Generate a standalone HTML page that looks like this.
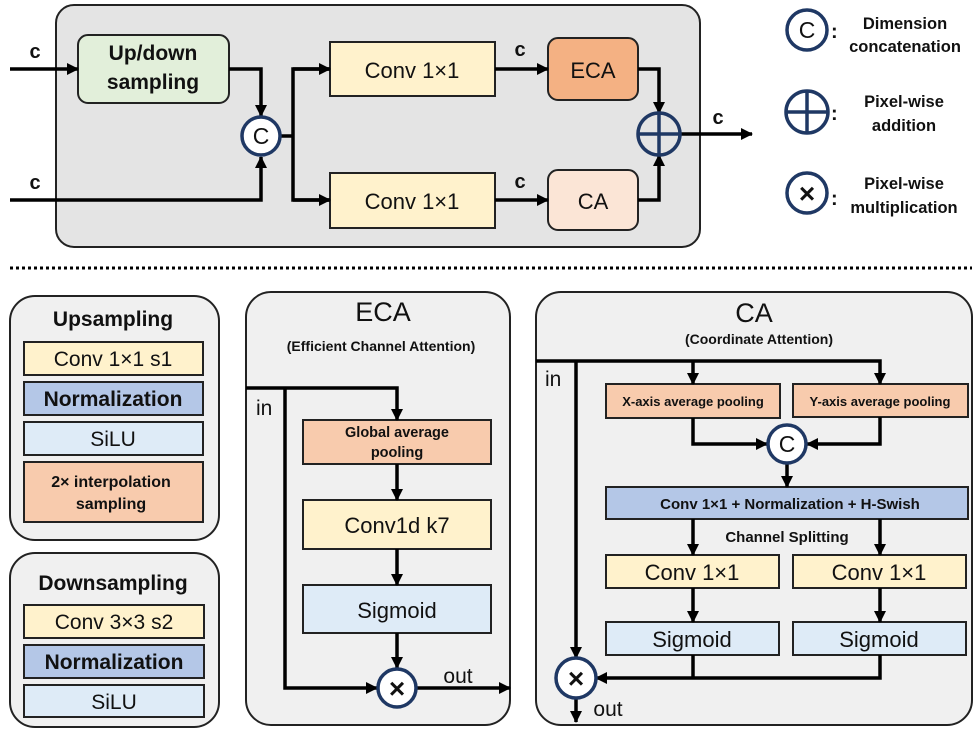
<!DOCTYPE html>
<html><head><meta charset="utf-8"><style>
html,body{margin:0;padding:0;background:#fff;}
svg{display:block;}
text{font-family:"Liberation Sans",sans-serif;fill:#111;}
.b{font-weight:bold;}
</style></head><body>
<svg width="977" height="735" viewBox="0 0 977 735" xmlns="http://www.w3.org/2000/svg">
<defs>
<marker id="a" markerWidth="12" markerHeight="12" refX="11" refY="6" orient="auto" markerUnits="userSpaceOnUse"><path d="M0,0 L12,6 L0,12 z" fill="#000"/></marker>
<marker id="A" markerWidth="12" markerHeight="12" refX="11" refY="6" orient="auto" markerUnits="userSpaceOnUse"><path d="M0,0 L12,6 L0,12 z" fill="#000"/></marker>
</defs>
<g stroke="#000" fill="none" stroke-width="3.5">
<rect x="56" y="5" width="644" height="242" rx="18" fill="#e4e4e4" stroke="#222" stroke-width="2"/>
<rect x="78" y="35" width="151" height="68" rx="10" fill="#e2efda" stroke="#222" stroke-width="2"/>
<rect x="330" y="42" width="165" height="54" fill="#fff2cc" stroke="#222" stroke-width="2"/>
<rect x="330" y="173" width="165" height="55" fill="#fff2cc" stroke="#222" stroke-width="2"/>
<rect x="548" y="38" width="90" height="62" rx="10" fill="#f4b183" stroke="#222" stroke-width="2"/>
<rect x="548" y="170" width="90" height="60" rx="10" fill="#fbe5d6" stroke="#222" stroke-width="2"/>
<line x1="10" y1="69" x2="78" y2="69" marker-end="url(#A)"/>
<polyline points="10,200 261,200 261,157" marker-end="url(#A)"/>
<polyline points="229,69 261,69 261,116" marker-end="url(#A)"/>
<polyline points="280,136 293,136"/>
<polyline points="330,69 293,69 293,200 330,200" />
<line x1="293" y1="69" x2="330" y2="69" marker-end="url(#A)"/>
<line x1="293" y1="200" x2="330" y2="200" marker-end="url(#A)"/>
<line x1="495" y1="69" x2="548" y2="69" marker-end="url(#A)"/>
<line x1="495" y1="200" x2="548" y2="200" marker-end="url(#A)"/>
<polyline points="638,69 659,69 659,113" marker-end="url(#A)"/>
<polyline points="638,200 659,200 659,155" marker-end="url(#A)"/>
<line x1="680" y1="134" x2="752" y2="134" marker-end="url(#A)"/>
</g>
<g stroke="#1f3864" stroke-width="3.5" fill="#fff">
<circle cx="261" cy="136" r="19"/>
<circle cx="659" cy="134" r="21" fill="none"/>
<line x1="638" y1="134" x2="680" y2="134"/><line x1="659" y1="113" x2="659" y2="155"/>
<circle cx="807" cy="30" r="20"/>
<circle cx="807" cy="112" r="21"/>
<line x1="786" y1="112" x2="828" y2="112"/><line x1="807" y1="91" x2="807" y2="133"/>
<circle cx="807" cy="193" r="20"/>
</g>
<text x="261" y="144" font-size="23" text-anchor="middle">C</text>
<text x="807" y="38" font-size="23" text-anchor="middle">C</text>
<text x="807" y="203" font-size="28" text-anchor="middle" class="b">×</text>
<g font-size="20">
<text x="35" y="58" text-anchor="middle" class="b">c</text>
<text x="35" y="189" text-anchor="middle" class="b">c</text>
<text x="520" y="56" text-anchor="middle" class="b">c</text>
<text x="520" y="188" text-anchor="middle" class="b">c</text>
<text x="718" y="124" text-anchor="middle" class="b">c</text>
</g>
<text x="153" y="60" font-size="21" text-anchor="middle" class="b">Up/down</text>
<text x="153" y="89" font-size="21" text-anchor="middle" class="b">sampling</text>
<text x="412" y="78" font-size="22" text-anchor="middle">Conv 1×1</text>
<text x="412" y="209" font-size="22" text-anchor="middle">Conv 1×1</text>
<text x="593" y="78" font-size="22" text-anchor="middle">ECA</text>
<text x="593" y="209" font-size="22" text-anchor="middle">CA</text>
<g font-size="16.5" text-anchor="middle">
<text x="905" y="29" class="b">Dimension</text><text x="905" y="52" class="b">concatenation</text>
<text x="904" y="107" class="b">Pixel-wise</text><text x="904" y="131" class="b">addition</text>
<text x="904" y="189" class="b">Pixel-wise</text><text x="904" y="213" class="b">multiplication</text>
</g>
<g font-size="20"><text x="831" y="38" class="b">:</text><text x="831" y="120" class="b">:</text><text x="831" y="205" class="b">:</text></g>
<line x1="10" y1="268" x2="972" y2="268" stroke="#000" stroke-width="3" stroke-dasharray="3,3"/>
<g stroke="#222" stroke-width="2">
<rect x="10" y="296" width="209" height="244" rx="25" fill="#f0f0f0"/>
<rect x="24" y="342" width="179" height="33" fill="#fff2cc"/>
<rect x="24" y="382" width="179" height="33" fill="#b4c7e7"/>
<rect x="24" y="422" width="179" height="33" fill="#deebf7"/>
<rect x="24" y="462" width="179" height="60" fill="#f8cbad"/>
<rect x="10" y="553" width="209" height="174" rx="25" fill="#f0f0f0"/>
<rect x="24" y="605" width="180" height="33" fill="#fff2cc"/>
<rect x="24" y="645" width="180" height="33" fill="#b4c7e7"/>
<rect x="24" y="685" width="180" height="32" fill="#deebf7"/>
<rect x="246" y="292" width="264" height="433" rx="25" fill="#f0f0f0"/>
<rect x="303" y="420" width="188" height="44" fill="#f8cbad"/>
<rect x="303" y="500" width="188" height="49" fill="#fff2cc"/>
<rect x="303" y="585" width="188" height="48" fill="#deebf7"/>
<rect x="536" y="292" width="436" height="433" rx="25" fill="#f0f0f0"/>
<rect x="606" y="384" width="174" height="34" fill="#f8cbad"/>
<rect x="793" y="384" width="175" height="33" fill="#f8cbad"/>
<rect x="606" y="487" width="362" height="32" fill="#b4c7e7"/>
<rect x="606" y="555" width="173" height="33" fill="#fff2cc"/>
<rect x="793" y="555" width="173" height="33" fill="#fff2cc"/>
<rect x="606" y="622" width="173" height="33" fill="#deebf7"/>
<rect x="793" y="622" width="173" height="33" fill="#deebf7"/>
</g>
<text x="113" y="326" font-size="21" text-anchor="middle" class="b">Upsampling</text>
<text x="113" y="366" font-size="21" text-anchor="middle">Conv 1×1 s1</text>
<text x="113" y="406" font-size="21" text-anchor="middle" class="b">Normalization</text>
<text x="113" y="446" font-size="21" text-anchor="middle">SiLU</text>
<text x="111" y="487" font-size="16" text-anchor="middle" class="b">2× interpolation</text>
<text x="111" y="509" font-size="16" text-anchor="middle" class="b">sampling</text>
<text x="113" y="590" font-size="21" text-anchor="middle" class="b">Downsampling</text>
<text x="114" y="629" font-size="21" text-anchor="middle">Conv 3×3 s2</text>
<text x="114" y="669" font-size="21" text-anchor="middle" class="b">Normalization</text>
<text x="114" y="709" font-size="21" text-anchor="middle">SiLU</text>
<text x="383" y="321" font-size="27" text-anchor="middle">ECA</text>
<text x="381" y="351" font-size="14" text-anchor="middle" class="b">(Efficient Channel Attention)</text>
<text x="256" y="415" font-size="21">in</text>
<text x="397" y="437" font-size="14.5" text-anchor="middle" class="b">Global average</text>
<text x="397" y="457" font-size="14.5" text-anchor="middle" class="b">pooling</text>
<text x="397" y="533" font-size="22" text-anchor="middle">Conv1d k7</text>
<text x="397" y="618" font-size="22" text-anchor="middle">Sigmoid</text>
<text x="458" y="683" font-size="21" text-anchor="middle">out</text>
<g stroke="#000" stroke-width="3.5" fill="none">
<polyline points="246,388 397,388 397,420" marker-end="url(#a)"/>
<polyline points="285,388 285,688 377,688" marker-end="url(#a)"/>
<line x1="397" y1="464" x2="397" y2="500" marker-end="url(#a)"/>
<line x1="397" y1="549" x2="397" y2="585" marker-end="url(#a)"/>
<line x1="397" y1="633" x2="397" y2="668" marker-end="url(#a)"/>
<line x1="417" y1="688" x2="510" y2="688" marker-end="url(#a)"/>
<polyline points="536,361 880,361 880,384" marker-end="url(#a)"/>
<line x1="693" y1="361" x2="693" y2="384" marker-end="url(#a)"/>
<line x1="576" y1="361" x2="576" y2="658" marker-end="url(#a)"/>
<polyline points="693,418 693,444 767,444" marker-end="url(#a)"/>
<polyline points="880,417 880,444 807,444" marker-end="url(#a)"/>
<line x1="787" y1="463" x2="787" y2="487" marker-end="url(#a)"/>
<line x1="693" y1="519" x2="693" y2="555" marker-end="url(#a)"/>
<line x1="880" y1="519" x2="880" y2="555" marker-end="url(#a)"/>
<line x1="693" y1="588" x2="693" y2="622" marker-end="url(#a)"/>
<line x1="880" y1="588" x2="880" y2="622" marker-end="url(#a)"/>
<polyline points="693,655 693,678"/>
<polyline points="880,655 880,678 596,678" marker-end="url(#a)"/>
<line x1="576" y1="698" x2="576" y2="722" marker-end="url(#a)"/>
</g>
<g stroke="#1f3864" stroke-width="3.5" fill="#fff">
<circle cx="397" cy="688" r="19"/>
<circle cx="787" cy="444" r="19"/>
<circle cx="576" cy="678" r="20"/>
</g>
<text x="397" y="698" font-size="28" text-anchor="middle" class="b">×</text>
<text x="576" y="688" font-size="28" text-anchor="middle" class="b">×</text>
<text x="787" y="452" font-size="23" text-anchor="middle">C</text>
<text x="754" y="322" font-size="27" text-anchor="middle">CA</text>
<text x="759" y="344" font-size="14" text-anchor="middle" class="b">(Coordinate Attention)</text>
<text x="545" y="386" font-size="21">in</text>
<text x="693" y="406" font-size="13" text-anchor="middle" class="b">X-axis average pooling</text>
<text x="880" y="406" font-size="13" text-anchor="middle" class="b">Y-axis average pooling</text>
<text x="790" y="509" font-size="15" text-anchor="middle" class="b">Conv 1×1 + Normalization + H-Swish</text>
<text x="787" y="542" font-size="15" text-anchor="middle" class="b">Channel Splitting</text>
<text x="692" y="580" font-size="22" text-anchor="middle">Conv 1×1</text>
<text x="879" y="580" font-size="22" text-anchor="middle">Conv 1×1</text>
<text x="692" y="647" font-size="22" text-anchor="middle">Sigmoid</text>
<text x="879" y="647" font-size="22" text-anchor="middle">Sigmoid</text>
<text x="608" y="716" font-size="21" text-anchor="middle">out</text>
</svg>
</body></html>
